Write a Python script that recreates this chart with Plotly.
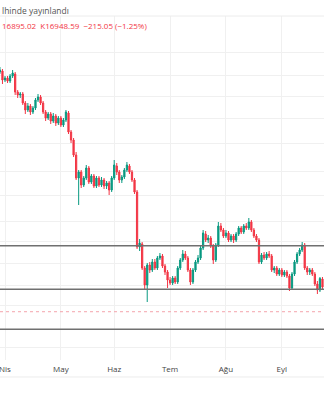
import plotly.graph_objects as go
import pandas as pd

open_ = [22325,22350,22125,22175,22100,22225,22275,21825,21750,21775,
         21550,21375,21475,21325,21425,21625,21700,21550,21325,21175,
         21275,21100,21225,21050,21175,21000,21125,21300,20825,20625,
         20250,19675,19825,19500,19675,19925,19575,19725,19475,19675,
         19500,19625,19475,19550,19375,19675,19975,19825,19625,19700,
         19875,19975,19825,19625,19325,17950,18025,17425,17000,17500,
         17375,17575,17425,17675,17725,17475,17325,17125,17050,17175,
         17075,17425,17625,17775,17675,17375,17075,17375,17575,17675,
         17925,18275,18125,18175,17975,17625,18000,18475,18375,18225,
         18300,18125,18225,18125,18275,18425,18325,18475,18425,18575,
         18375,18225,18125,17575,17750,17675,17775,17725,17375,17425,
         17275,17375,17250,17325,17225,16925,17275,17575,17775,17875,
         18000,17425,17325,17375,17275,17025,16875,17150]
high = [22450,22400,22225,22225,22275,22375,22325,21875,21825,21825,
        21600,21550,21525,21475,21675,21775,21750,21600,21375,21325,
        21325,21300,21275,21225,21225,21175,21375,21350,20875,20675,
        20325,19875,19875,19725,20000,19975,19775,19775,19725,19725,
        19700,19675,19600,19600,19725,20125,20050,19875,19750,19925,
        20075,20025,19875,19675,19375,18150,18075,17475,17550,17575,
        17650,17650,17725,17800,17775,17525,17375,17200,17225,17225,
        17475,17675,17875,17850,17725,17425,17425,17625,17750,17975,
        18375,18350,18250,18225,18025,18050,18575,18550,18425,18375,
        18350,18275,18275,18325,18475,18475,18525,18550,18675,18625,
        18425,18275,18175,17800,17825,17825,17850,17775,17475,17475,
        17425,17425,17375,17375,17275,17325,17625,17825,17925,18075,
        18050,17475,17425,17425,17325,17100,17200,17200]
low = [22275,22025,22075,22050,22050,22175,21750,21675,21675,21500,
       21275,21325,21250,21275,21375,21575,21500,21275,21100,21125,
       21025,21050,20975,21000,20950,20950,21075,20775,20550,20200,
       19625,19000,19425,19450,19625,19525,19525,19425,19425,19450,
       19450,19400,19400,19250,19325,19625,19750,19550,19550,19650,
       19825,19775,19575,19275,17900,17850,17375,16875,16575,17300,
       17325,17375,17375,17625,17425,17250,16925,17000,17000,17025,
       17025,17375,17575,17625,17325,17000,17025,17325,17525,17625,
       17875,18075,18050,17925,17525,17575,17950,18325,18175,18175,
       18075,18075,18050,18075,18225,18275,18275,18375,18375,18325,
       18175,18075,17525,17525,17625,17625,17675,17325,17300,17225,
       17225,17200,17200,17175,16850,16875,17225,17525,17725,17825,
       17375,17250,17250,17225,16975,16775,16825,16895.02]
close = [22375,22125,22175,22100,22225,22300,21825,21750,21775,21550,
         21375,21475,21325,21425,21625,21700,21550,21325,21175,21275,
         21100,21225,21050,21175,21000,21125,21325,20825,20625,20250,
         19675,19825,19500,19675,19925,19575,19725,19475,19675,19500,
         19625,19475,19550,19375,19675,20000,19825,19625,19700,19875,
         20000,19825,19625,19325,17950,18050,17425,17000,17500,17375,
         17575,17425,17675,17725,17475,17325,17125,17050,17175,17075,
         17425,17625,17775,17675,17375,17075,17375,17575,17675,17925,
         18300,18125,18175,17975,17625,18000,18475,18375,18225,18300,
         18125,18225,18125,18275,18425,18325,18475,18425,18575,18375,
         18225,18125,17575,17750,17675,17775,17725,17375,17425,17275,
         17375,17250,17325,17225,16925,17275,17575,17775,17875,18000,
         17425,17325,17375,17275,17025,16875,17163.64,16948.59]

dates = [d.strftime("%Y-%m-%d") for d in pd.bdate_range("2021-03-30", "2021-09-30")][:len(close)]

month_ticks = ["2021-04-01", "2021-05-03", "2021-06-01", "2021-07-01", "2021-08-02", "2021-09-01"]
month_labels = ["Nis", "May", "Haz", "Tem", "Ağu", "Eyl"]
grid_prices = [22807, 22250, 21707, 21167, 20542, 19832, 19250, 18600, 18100, 17550, 17000, 16500, 15450]
level_lines = [17982, 16892, 15892]
dotted_level = 16332

header_1 = "lhinde yayınlandı"
header_2 = "16895.02  K16948.59  −215.05 (−1.25%)"

UP = "#089981"
DN = "#F23645"

fig = go.Figure(go.Candlestick(
    x=dates, open=open_, high=high, low=low, close=close,
    increasing=dict(line=dict(color=UP, width=1), fillcolor=UP),
    decreasing=dict(line=dict(color=DN, width=1), fillcolor=DN),
    whiskerwidth=0, showlegend=False, hoverinfo="skip",
))

for lv in level_lines:
    fig.add_shape(type="line", xref="paper", x0=0, x1=1, yref="y", y0=lv, y1=lv,
                  line=dict(color="#707070", width=1.5), layer="above")
fig.add_shape(type="line", xref="paper", x0=0, x1=1, yref="y", y0=dotted_level, y1=dotted_level,
              line=dict(color="#f4a3ab", width=1, dash="dot"), layer="above")

# header separator and bottom separator
fig.add_shape(type="line", xref="paper", x0=0, x1=1, yref="paper", y0=1, y1=1,
              line=dict(color="#ececec", width=1))
fig.add_shape(type="line", xref="paper", x0=0, x1=1, yref="paper", y0=-0.0494, y1=-0.0494,
              line=dict(color="#ececec", width=1))

fig.add_annotation(text=header_1, xref="paper", yref="paper", x=0, y=1.0174,
                   xanchor="left", yanchor="middle", showarrow=False,
                   font=dict(family="Open Sans", size=8.5, color="#555555"))
fig.add_annotation(text=header_2, xref="paper", yref="paper", x=0, y=0.971,
                   xanchor="left", yanchor="middle", showarrow=False,
                   font=dict(family="Open Sans", size=8, color=DN))

fig.update_layout(
    width=324, height=400,
    margin=dict(l=0, r=0, t=16, b=40),
    paper_bgcolor="white", plot_bgcolor="white",
    font=dict(family="Open Sans", size=8, color="#333333"),
    xaxis=dict(type="category", range=[0.03, 127.6], tickmode="array",
               tickvals=month_ticks, ticktext=month_labels,
               showgrid=True, gridcolor="#f0f0f0", gridwidth=1,
               rangeslider=dict(visible=False), ticks="", showline=False,
               zeroline=False, ticklabelstandoff=3,
               tickfont=dict(size=8, color="#444444")),
    yaxis=dict(range=[15125, 23725], tickmode="array", tickvals=grid_prices,
               showticklabels=False, showgrid=True, gridcolor="#f0f0f0",
               gridwidth=1, zeroline=False, showline=False, ticks=""),
)

fig.write_html("out.html")
